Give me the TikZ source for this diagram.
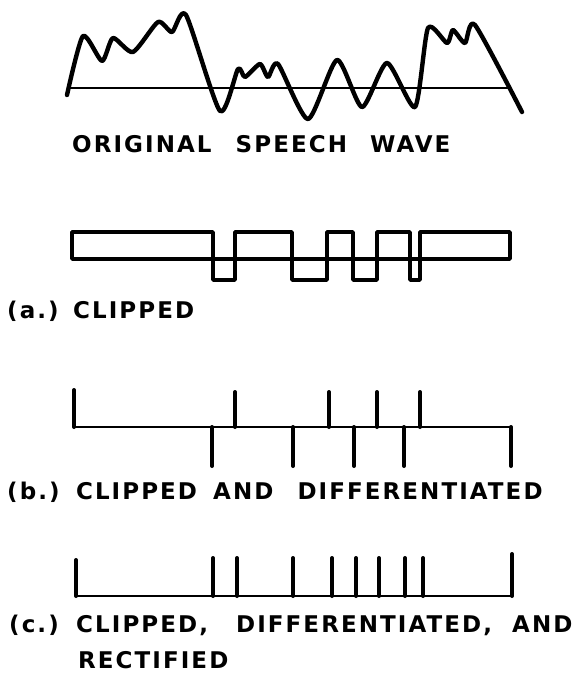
\documentclass[tikz,border=0pt]{standalone}
\usepackage{fontspec}
\setmainfont{DejaVu Sans}[LetterSpace=9,BoldFont={DejaVu Sans Bold}]
\begin{document}
\begin{tikzpicture}[x=1pt,y=-1pt,
  wave/.style={line width=4.4pt,line join=round,line cap=round},
  axis/.style={line width=2.8pt,line cap=round},
  sq/.style={line width=3.4pt,line join=round},
  pulse/.style={line width=4pt,line cap=round},
  lbl/.style={anchor=base west,inner sep=0pt,font=\fontsize{23}{28}\bfseries}]
\useasboundingbox (0,0) rectangle (583,673);
% original speech wave
\draw[axis] (70,88) -- (510,88);
\draw[wave] plot[smooth,tension=0.4] coordinates {
 (67,95) (83,36) (102,61) (113,38) (133,52) (158,22) (172,32) (186,15)
 (220,111) (238,69) (245,77) (260,64) (268,77) (278,64) (308,119)
 (337,60) (362,107) (387,63) (415,107) (428,28) (447,43) (453,30)
 (465,43) (475,25) (522,112)};
\node[lbl] (t0) at (72,152) {ORIGINAL\hspace{14pt} SPEECH\hspace{13pt} WAVE};
% (a) clipped
\draw[sq] (510,259) -- (72,259) -- (72,232) -- (213,232) -- (213,280) -- (235,280)
 -- (235,232) -- (292,232) -- (292,280) -- (327,280) -- (327,232) -- (353,232)
 -- (353,280) -- (377,280) -- (377,232) -- (410,232) -- (410,280) -- (420,280)
 -- (420,232) -- (510,232) -- cycle;
\node[lbl] (ta) at (7,318) {(a.)\hspace{1pt} CLIPPED};
% (b) differentiated
\draw[axis] (74,427) -- (511,427);
\draw[pulse] (74,427) -- (74,390);
\foreach \x in {235,329,377,420} \draw[pulse] (\x,427) -- (\x,392);
\foreach \x in {212,293,354,404,511} \draw[pulse] (\x,427) -- (\x,466);
\node[lbl] (tb) at (7,499) {(b.)\hspace{3pt} CLIPPED\hspace{6pt} AND\hspace{14pt} DIFFERENTIATED};
% (c) rectified
\draw[axis] (76,596) -- (512,596);
\draw[pulse] (76,596) -- (76,560);
\foreach \x in {213,237,293,332,356,379,405,423} \draw[pulse] (\x,596) -- (\x,558);
\draw[pulse] (512,596) -- (512,554);
\node[lbl] (tc) at (9,632) {(c.)\hspace{4pt} CLIPPED,\hspace{18pt} DIFFERENTIATED,\hspace{10pt} AND};
\node[lbl] (tc2) at (78,668) {RECTIFIED};
\end{tikzpicture}
\end{document}
